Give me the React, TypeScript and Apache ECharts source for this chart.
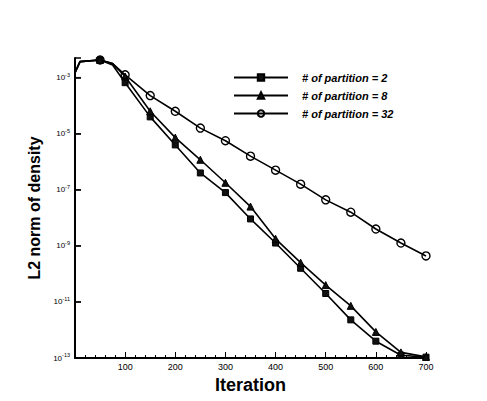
import React, { useEffect, useRef } from 'react';
import * as echarts from 'echarts';

// Iterations at which values were read (markers every 50 iterations)
const iterations = [0, 10, 50, 75, 100, 150, 200, 250, 300, 350, 400, 450, 500, 550, 600, 650, 700];
// log10 of the L2 norm of density
const partition2 = [-2.82, -2.43, -2.37, -2.55, -3.18, -4.4, -5.4, -6.4, -7.1, -8.04, -8.9, -9.8, -10.7, -11.64, -12.4, -12.9, -12.97];
const partition8 = [-2.82, -2.43, -2.37, -2.5, -2.96, -4.2, -5.14, -5.93, -6.75, -7.6, -8.75, -9.6, -10.4, -11.14, -12.07, -12.8, -12.96];
const partition32 = [-2.82, -2.43, -2.37, -2.5, -2.9, -3.64, -4.2, -4.8, -5.25, -5.8, -6.3, -6.8, -7.36, -7.8, -8.4, -8.9, -9.36];

const seriesNames = ['# of partition = 2', '# of partition = 8', '# of partition = 32'];
const yTickExponents = [-13, -11, -9, -7, -5, -3];
const xTickLabels = [100, 200, 300, 400, 500, 600, 700];

const FONT = 'Liberation Sans, Arial, sans-serif';

export default function App() {
  const ref = useRef<HTMLDivElement>(null);

  useEffect(() => {
    if (!ref.current) return;
    const chart = echarts.init(ref.current, null, { renderer: 'svg' });

    const mk = (arr: number[], symbol: string, size: number, filled: boolean, name: string) => ({
      name,
      type: 'line',
      data: iterations.map((x, i) => ({
        value: [x, arr[i]],
        symbol: x > 0 && x % 50 === 0 ? symbol : 'none',
      })),
      symbol,
      symbolSize: size,
      showAllSymbol: true,
      lineStyle: { color: '#000', width: 1.6 },
      itemStyle: filled
        ? { color: '#111', borderColor: '#000', borderWidth: 1 }
        : { color: 'rgba(255,255,255,0)', borderColor: '#000', borderWidth: 1.4 },
      emphasis: { disabled: true },
    });

    chart.setOption({
      animation: false,
      backgroundColor: '#fff',
      grid: { left: 75, right: 61, top: 58, bottom: 43 },
      legend: {
        orient: 'vertical',
        left: 228,
        top: 67,
        itemWidth: 54,
        itemHeight: 8,
        itemGap: 7,
        data: seriesNames,
        textStyle: {
          fontFamily: FONT,
          fontSize: 11,
          fontWeight: 'bold',
          fontStyle: 'italic',
          color: '#000',
          padding: [0, 0, 0, 9],
        },
      },
      xAxis: {
        type: 'value',
        min: 0,
        max: 700,
        interval: 100,
        name: 'Iteration',
        nameLocation: 'middle',
        nameGap: 12,
        nameTextStyle: { fontFamily: FONT, fontSize: 18, fontWeight: 'bold', color: '#000' },
        axisLine: { lineStyle: { color: '#000', width: 2 } },
        axisTick: { inside: true, length: 6, lineStyle: { color: '#000', width: 1 } },
        minorTick: { show: true, splitNumber: 5, length: 3, lineStyle: { color: '#000', width: 1 } },
        splitLine: { show: false },
        axisLabel: {
          showMinLabel: false,
          margin: 4,
          fontFamily: FONT,
          fontSize: 9,
          color: '#000',
          formatter: (v: number) => (xTickLabels.includes(v) ? String(v) : ''),
        },
      },
      yAxis: {
        type: 'value',
        position: 'left',
        min: -13,
        max: -2.3,
        interval: 2,
        name: 'L2 norm of density',
        nameLocation: 'middle',
        nameRotate: 90,
        nameGap: 32,
        nameTextStyle: { fontFamily: FONT, fontSize: 16, fontWeight: 'bold', color: '#000' },
        axisLine: { show: true, onZero: false, lineStyle: { color: '#000', width: 2 } },
        axisTick: { show: true, inside: true, length: 6, lineStyle: { color: '#000', width: 1.5 } },
        splitLine: { show: false },
        axisLabel: {
          show: true,
          margin: 5,
          fontFamily: FONT,
          color: '#000',
          formatter: (v: number) =>
            yTickExponents.includes(Math.round(v * 1000) / 1000) ? `{b|10}{s|${v}}` : '',
          rich: {
            b: { fontFamily: FONT, fontSize: 8, color: '#000', lineHeight: 12 },
            s: { fontFamily: FONT, fontSize: 5.5, color: '#000', verticalAlign: 'top', lineHeight: 6 },
          },
        },
      },
      series: [
        mk(partition2, 'rect', 6, true, seriesNames[0]),
        mk(partition8, 'triangle', 7, true, seriesNames[1]),
        mk(partition32, 'circle', 8, false, seriesNames[2]),
        {
          // inward tick marks on the y axis at each labelled decade
          type: 'scatter',
          name: 'yticks',
          silent: true,
          clip: false,
          symbol: 'rect',
          symbolSize: [6, 1.4],
          symbolOffset: [3, 0],
          itemStyle: { color: '#000' },
          data: yTickExponents.map((e) => [0, e]),
          z: 1,
        },
      ],
    });

    return () => chart.dispose();
  }, []);

  return <div ref={ref} style={{ width: 487, height: 401, position: 'absolute', left: 0, top: 0 }} />;
}
